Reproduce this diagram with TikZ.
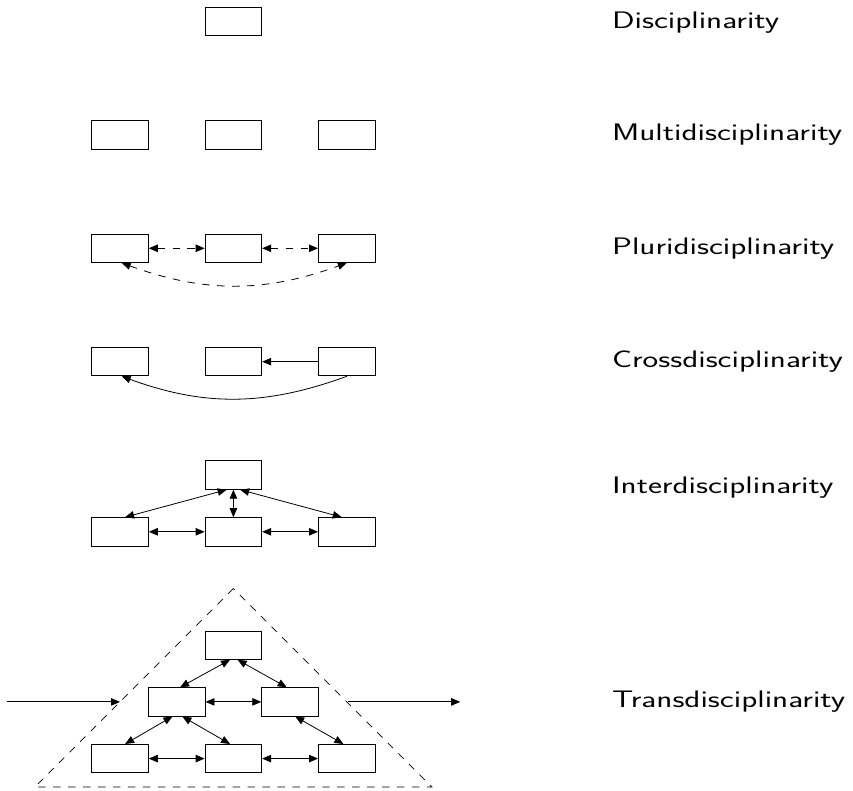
\documentclass[tikz,border=0pt]{standalone}
\usetikzlibrary{arrows.meta}
\newcommand{\widetext}[1]{\scalebox{1.39}[1]{#1}}
\begin{document}
\begin{tikzpicture}[
  box/.style={draw=black, line width=0.9pt, minimum width=2cm, minimum height=1cm, inner sep=0pt},
  lab/.style={anchor=west, inner sep=0pt, font=\sffamily\fontsize{24}{28}\selectfont},
  conn/.style={line width=0.8pt, {Triangle[length=9pt,width=7.5pt]}-{Triangle[length=9pt,width=7.5pt]}},
  oneway/.style={line width=0.8pt, -{Triangle[length=9pt,width=7.5pt]}},
  dsh/.style={dash pattern=on 7.5pt off 7.5pt},
]
\useasboundingbox (-4.233,0.758) rectangle (25.855,-27.108);

% Disciplinarity
\node[box] (d1) at (4,0) {};
\node[lab] (l1) at (17.35,-0.05) {\widetext{Disciplinarity}};

% Multidisciplinarity
\node[box] (m1) at (0,-4) {};
\node[box] (m2) at (4,-4) {};
\node[box] (m3) at (8,-4) {};
\node[lab] (l2) at (17.35,-4) {\widetext{Multidisciplinarity}};

% Pluridisciplinarity
\node[box] (p1) at (0,-8) {};
\node[box] (p2) at (4,-8) {};
\node[box] (p3) at (8,-8) {};
\draw[conn,dsh] (p1.east) -- (p2.west);
\draw[conn,dsh] (p2.east) -- (p3.west);
\draw[conn,dsh] ([xshift=0.06cm]p1.south) to[bend right=20] (p3.south);
\node[lab] (l3) at (17.35,-8) {\widetext{Pluridisciplinarity}};

% Crossdisciplinarity
\node[box] (c1) at (0,-12) {};
\node[box] (c2) at (4,-12) {};
\node[box] (c3) at (8,-12) {};
\draw[oneway] (c3.west) -- (c2.east);
\draw[oneway] (c3.south) to[bend left=20] ([xshift=0.06cm]c1.south);
\node[lab] (l4) at (17.35,-12) {\widetext{Crossdisciplinarity}};

% Interdisciplinarity
\node[box] (i0) at (4,-16) {};
\node[box] (i1) at (0,-18) {};
\node[box] (i2) at (4,-18) {};
\node[box] (i3) at (8,-18) {};
\draw[conn] ([xshift=-0.24cm]i0.south) -- ([xshift=0.18cm]i1.north);
\draw[conn] ([xshift=0.24cm]i0.south) -- ([xshift=-0.18cm]i3.north);
\draw[conn] (i0.south) -- (i2.north);
\draw[conn] (i1.east) -- (i2.west);
\draw[conn] (i2.east) -- (i3.west);
\node[lab] (l5) at (17.35,-16.45) {\widetext{Interdisciplinarity}};

% Transdisciplinarity
\node[box] (t0) at (4,-22) {};
\node[box] (t1) at (2,-24) {};
\node[box] (t2) at (6,-24) {};
\node[box] (t3) at (0,-26) {};
\node[box] (t4) at (4,-26) {};
\node[box] (t5) at (8,-26) {};
\draw[conn] ([xshift=-0.12cm]t0.south) -- ([xshift=0.12cm]t1.north);
\draw[conn] ([xshift=0.15cm]t0.south) -- ([xshift=-0.12cm]t2.north);
\draw[conn] (t1.east) -- (t2.west);
\draw[conn] ([xshift=-0.15cm]t1.south) -- ([xshift=0.18cm]t3.north);
\draw[conn] ([xshift=0.2cm]t1.south) -- ([xshift=-0.12cm]t4.north);
\draw[conn] ([xshift=0.18cm]t2.south) -- ([xshift=-0.12cm]t5.north);
\draw[conn] (t3.east) -- (t4.west);
\draw[conn] (t4.east) -- (t5.west);
\coordinate (apex) at (4,-20);
\coordinate (bl) at (-3,-27);
\coordinate (br) at (11,-27);
\draw[line width=0.8pt, dsh] (apex) -- (bl) -- (br) -- cycle;
\coordinate (inS) at (-4,-24);
\coordinate (inE) at (0,-24);
\coordinate (outS) at (8.05,-24);
\coordinate (outE) at (12,-24);
\draw[oneway] (inS) -- (inE);
\draw[oneway] (outS) -- (outE);
\node[lab] (l6) at (17.35,-24) {\widetext{Transdisciplinarity}};
\end{tikzpicture}
\end{document}
